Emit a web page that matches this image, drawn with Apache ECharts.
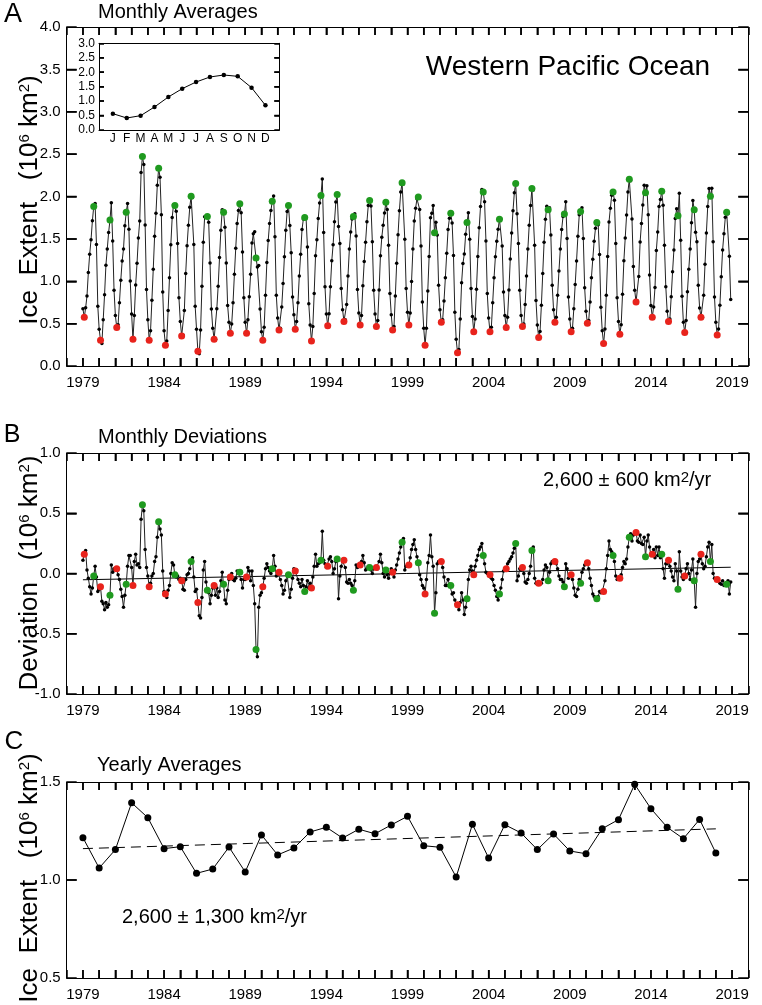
<!DOCTYPE html>
<html>
<head>
<meta charset="utf-8">
<script src="https://cdn.jsdelivr.net/npm/echarts/dist/echarts.min.js"></script>
<style>
html,body{margin:0;padding:0;background:#fff;}
#chart{width:762px;height:1005px;}
</style>
</head>
<body>
<div id="chart"></div>
<script>
// ---------------- DATA ----------------
const startYear = 1979;
const monthLabels = ['J','F','M','A','M','J','J','A','S','O','N','D'];
// inset: monthly climatology (10^6 km^2)
const climatology = [0.565, 0.415, 0.496, 0.796, 1.142, 1.430, 1.661, 1.834, 1.903, 1.857, 1.465, 0.854];
// monthly deviations from climatology (10^6 km^2), one row per year, Jan..Dec
const monthlyDeviations = [
  [ .11,  .16,  .19,  .03, -.04, -.11, -.17, -.12, -.02,  .06, -.03, -.15], // 1979
  [-.13, -.11, -.23, -.25, -.30, -.24, -.28, -.26, -.18,  .07,  .01,  .04], // 1980
  [ .03,  .04, -.01, -.05, -.13, -.19, -.28, -.18, -.09,  .06,  .15,  .15], // 1981
  [ .05, -.10,  .10,  .16,  .07,  .08,  .05,  .45,  .57,  .52,  .20,  .05], // 1982
  [-.02, -.11, -.08, -.02,  .00,  .10,  .14,  .30,  .43,  .37,  .32,  .02], // 1983
  [-.15, -.17, -.20, -.14, -.10,  .00,  .09,  .07, -.01, -.03, -.02, -.05], // 1984
  [-.04, -.06, -.13, -.14, -.05, -.01,  .00,  .04,  .10,  .13, -.03, -.15], // 1985
  [-.13, -.24, -.35, -.37, -.20,  .03,  .10, -.07, -.14, -.16, -.25, -.18], // 1986
  [-.12, -.10, -.18, -.12, -.20, -.15, -.06,  .01, -.09, -.22, -.25, -.14], // 1987
  [-.05, -.03,  .00, -.05, -.06, -.04,  .02,  .00,  .01, -.05, -.12, -.05], // 1988
  [-.05, -.03,  .05,  .02, -.06,  .02, -.10, -.25, -.63, -.69, -.28, -.18], // 1989
  [-.16, -.11, -.04,  .04,  .08,  .05,  .02,  .00,  .04,  .15,  .06, -.02], // 1990
  [ .00,  .01, -.05, -.10, -.17, -.14, -.06, -.01, -.01, -.20, -.13, -.04], // 1991
  [ .04,  .02,  .03, -.05, -.08, -.11, -.05, -.10, -.15, -.11, -.06, -.12], // 1992
  [-.08, -.12, -.03,  .06,  .16,  .06,  .08,  .09,  .11,  .35,  .11,  .08], // 1993
  [ .05,  .06,  .12,  .14,  .10,  .00,  .04,  .10,  .12, -.21, -.02,  .06], // 1994
  [ .10,  .11,  .05, -.07, -.08, -.05, -.08, -.10, -.14, -.06,  .07,  .05], // 1995
  [ .06,  .07,  .10,  .15,  .09,  .03,  .04,  .06,  .05,  .03,  .00,  .04], // 1996
  [ .05,  .05,  .04,  .10,  .16,  .09,  .00, -.03,  .03, -.01, -.04,  .00], // 1997
  [ .04,  .01, -.03,  .03,  .07,  .12,  .17,  .22,  .26,  .29,  .03,  .06], // 1998
  [ .07,  .07,  .13,  .20,  .24,  .28,  .20,  .14,  .09, -.01, -.05, -.10], // 1999
  [-.12, -.17, -.05,  .09,  .15,  .32,  .14,  .06, -.33, -.16,  .08,  .10], // 2000
  [ .10,  .10,  .05, -.03, -.10, -.10, -.05, -.09, -.10, -.17, -.16, -.22], // 2001
  [-.25, -.26, -.30, -.24, -.16, -.22, -.34, -.28, -.21, -.05,  .03,  .06], // 2002
  [ .02, -.01,  .06,  .11,  .15,  .20,  .22,  .25,  .15,  .08,  .01,  .00], // 2003
  [ .00, -.01, -.04, -.05, -.10, -.14, -.19, -.22, -.17, -.12, -.05,  .02], // 2004
  [ .03,  .04,  .08,  .10,  .12,  .14,  .17,  .21,  .25, -.06, -.02,  .04], // 2005
  [ .03,  .05,  .00, -.07, -.08, -.05,  .00,  .06,  .19,  .22, -.04, -.08], // 2006
  [-.08, -.08, -.09, -.08, -.05,  .03,  .07,  .05, -.06,  .01,  .08,  .10], // 2007
  [ .10,  .10,  .08,  .04, -.02, -.05, -.05, -.07, -.11,  .08,  .04, -.04], // 2008
  [-.01, -.01, -.05, -.12, -.18, -.19, -.13, -.05, -.08,  .01,  .04,  .07], // 2009
  [ .08,  .09,  .04, -.04, -.10, -.17, -.19, -.21, -.21, -.19, -.15, -.16], // 2010
  [-.15, -.15, -.06,  .04,  .15,  .27,  .20,  .18,  .15,  .10, -.02, -.05], // 2011
  [-.04, -.04, -.01,  .05,  .10,  .08,  .12,  .22,  .30,  .33,  .27,  .32], // 2012
  [ .33,  .34,  .27,  .26,  .32,  .25,  .24,  .30,  .14,  .27,  .32,  .22], // 2013
  [ .15,  .16,  .20,  .13,  .22,  .15,  .22,  .13,  .16,  .04, -.04,  .08], // 2014
  [ .08,  .11,  .06,  .02, -.03, -.06,  .08,  .02, -.13,  .18,  .02, -.03], // 2015
  [-.05, -.02,  .04,  .08,  .00, -.05,  .03,  .12, -.06, -.28,  .00,  .10], // 2016
  [ .12,  .16,  .08,  .04,  .06,  .14,  .22,  .26,  .10,  .24,  .00, -.04], // 2017
  [-.05, -.05, -.06, -.08, -.09, -.06, -.10, -.08, -.09, -.06, -.17, -.07]  // 2018
];
// yearly averages 1979..2018 (10^6 km^2)
const yearlyAverages = [1.216, 1.061, 1.155, 1.394, 1.318, 1.160, 1.170, 1.034, 1.056, 1.168,
  1.041, 1.230, 1.128, 1.163, 1.245, 1.269, 1.214, 1.259, 1.236, 1.281,
  1.325, 1.175, 1.167, 1.015, 1.284, 1.112, 1.282, 1.240, 1.155, 1.235,
  1.148, 1.134, 1.262, 1.308, 1.488, 1.364, 1.269, 1.211, 1.309, 1.138];
// trend line end points
const deviationTrend = [[1979, -0.052], [2018.917, 0.052]];
const yearlyTrend = [[1979, 1.160], [2018, 1.261]];
const yearTickLabels = [1979, 1984, 1989, 1994, 1999, 2004, 2009, 2014, 2019];
const yTicksA = [0.5, 1.0, 1.5, 2.0, 2.5, 3.0, 3.5];
const yTicksB = [-0.5, 0.0, 0.5];
const yTicksC = [1.0];
const yTicksInset = [0.5, 1.0, 1.5, 2.0, 2.5];

// ---------------- BUILD SERIES DATA ----------------
const extentData = [], devData = [], febExt = [], sepExt = [], febDev = [], sepDev = [];
monthlyDeviations.forEach((row, i) => {
  row.forEach((d, m) => {
    const x = startYear + i + m / 12;
    const v = +(climatology[m] + d).toFixed(3);
    extentData.push([x, v]);
    devData.push([x, d]);
    if (m === 1) { febExt.push([x, v]); febDev.push([x, d]); }
    if (m === 8) { sepExt.push([x, v]); sepDev.push([x, d]); }
  });
});
const yearlyData = yearlyAverages.map((v, i) => [startYear + i, v]);
const insetData = climatology.map((v, i) => [i + 1, v]);

// ---------------- CHART ----------------
const FF = '"Liberation Sans", Arial, Helvetica, sans-serif';
const RED = '#e8231c', GREEN = '#1f9a1f';
const L = 66.7, W = 681.6;
const gridsDef = [
  {left: L, top: 27, width: W, height: 339},
  {left: L, top: 453, width: W, height: 241},
  {left: L, top: 782, width: W, height: 196},
  {left: 99, top: 43.3, width: 180.3, height: 86.7}
];
const axLine = () => ({show: true, onZero: false, lineStyle: {color: '#000', width: 1}});
const tk = (len) => ({show: true, inside: true, length: len, lineStyle: {color: '#000', width: 1.5}});
function xPair(g) {
  return [
    {type: 'value', gridIndex: g, position: 'bottom', min: 1978, max: 2020, interval: 1,
     axisLine: axLine(), splitLine: {show: false}, axisTick: tk(8),
     axisLabel: {show: true, margin: 9, color: '#000', fontSize: 15, fontFamily: FF,
       formatter: v => yearTickLabels.indexOf(Math.round(v)) >= 0 ? String(Math.round(v)) : ''}},
    {type: 'value', gridIndex: g, position: 'top', min: 1978, max: 2020, interval: 1,
     axisLine: axLine(), splitLine: {show: false}, axisTick: tk(8), axisLabel: {show: false}}
  ];
}
function yPair(g, min, max, interval) {
  return [
    {type: 'value', gridIndex: g, position: 'left', min, max, interval,
     axisLine: axLine(), splitLine: {show: false}, axisTick: tk(10),
     axisLabel: {show: true, margin: 6, color: '#000', fontSize: 15, fontFamily: FF,
       formatter: v => v.toFixed(1)}},
    {type: 'value', gridIndex: g, position: 'right', min, max, interval,
     axisLine: axLine(), splitLine: {show: false}, axisTick: tk(10), axisLabel: {show: false}}
  ];
}
const xAxes = [...xPair(0), ...xPair(1), ...xPair(2),
  {type: 'value', gridIndex: 3, position: 'bottom', min: 0, max: 13, interval: 1,
   axisLine: axLine(), splitLine: {show: false}, axisTick: {show: false},
   axisLabel: {show: true, margin: 3, color: '#000', fontSize: 12, fontFamily: FF,
     formatter: v => (v >= 1 && v <= 12) ? monthLabels[v - 1] : ''}},
  {type: 'value', gridIndex: 3, position: 'top', min: 0, max: 13, interval: 1,
   axisLine: axLine(), splitLine: {show: false}, axisTick: {show: false}, axisLabel: {show: false}}];
const yAxes = [...yPair(0, 0, 4, 0.5), ...yPair(1, -1, 1, 0.5), ...yPair(2, 0.5, 1.5, 0.5),
  {type: 'value', gridIndex: 3, position: 'left', min: 0, max: 3, interval: 0.5,
   axisLine: axLine(), splitLine: {show: false}, axisTick: tk(5),
   axisLabel: {show: true, margin: 4, color: '#000', fontSize: 12, fontFamily: FF, formatter: v => v.toFixed(1)}},
  {type: 'value', gridIndex: 3, position: 'right', min: 0, max: 3, interval: 0.5,
   axisLine: axLine(), splitLine: {show: false}, axisTick: tk(5), axisLabel: {show: false}}];

// tick marks as broken line series in data units (length given in pixels, converted with grid size)
function tickSeries(xi, yi, g, xmin, xmax, ymin, ymax, xTicks, yTicks, lenX, lenY) {
  const dy = lenX * (ymax - ymin) / g.height;
  const dx = lenY * (xmax - xmin) / g.width;
  const d = [];
  xTicks.forEach(t => {
    d.push([t, ymin], [t, ymin + dy], [t, null]);
    d.push([t, ymax], [t, ymax - dy], [t, null]);
  });
  yTicks.forEach(v => {
    d.push([xmin, v], [xmin + dx, v], [xmin, null]);
    d.push([xmax, v], [xmax - dx, v], [xmax, null]);
  });
  return {type: 'line', xAxisIndex: xi, yAxisIndex: yi, data: d, symbol: 'none', connectNulls: false,
    clip: false, silent: true, z: 6, lineStyle: {color: '#000', width: 1.5}};
}
const yearTicks = [];
for (let yr = 1979; yr <= 2019; yr++) yearTicks.push(yr);

function monthlyLine(xi, yi, data) {
  return {type: 'line', xAxisIndex: xi, yAxisIndex: yi, data, symbol: 'circle', symbolSize: 3.5,
    showSymbol: true, showAllSymbol: true, itemStyle: {color: '#000'},
    lineStyle: {color: '#222', width: 1}, z: 3, silent: true};
}
function dots(xi, yi, data, color) {
  return {type: 'scatter', xAxisIndex: xi, yAxisIndex: yi, data, symbol: 'circle', symbolSize: 7,
    itemStyle: {color, opacity: 1}, z: 4, silent: true};
}

const sup = {fontSize: 15, fontFamily: FF, verticalAlign: 'top', fill: '#000'};
const norm = (fs) => ({fontSize: fs, fontFamily: FF, verticalAlign: 'bottom', fill: '#000'});
function txt(x, y, text, fs, align) {
  return {type: 'text', x, y, silent: true,
    style: {text, fontSize: fs, fontFamily: FF, fill: '#000', align: align || 'left', verticalAlign: 'middle'}};
}
function richTxt(x, y, text, fs, align, rot) {
  return {type: 'text', x, y, rotation: rot || 0, silent: true,
    style: {text, fontSize: fs, fontFamily: FF, fill: '#000', align: align || 'left', verticalAlign: 'middle',
      rich: {n: norm(fs), s: sup}}};
}
const texts = [
  txt(13, 15, 'A', 27, 'center'),
  txt(98, 12, 'Monthly Averages', 20),
  txt(568, 67, 'Western Pacific Ocean', 28, 'center'),
  richTxt(30, 200, '{n|Ice  Extent   (10}{s|6}{n| km}{s|2}{n|)}', 26, 'center', Math.PI / 2),
  txt(12, 435, 'B', 25, 'center'),
  txt(98, 437, 'Monthly Deviations', 20),
  richTxt(543, 480, '{n|2,600 ± 600 km}{s|2}{n|/yr}', 20, 'left'),
  richTxt(30, 573, '{n|Deviation   (10}{s|6}{n| km}{s|2}{n|)}', 26, 'center', Math.PI / 2),
  txt(14, 742, 'C', 26, 'center'),
  txt(97, 765, 'Yearly Averages', 20),
  richTxt(122, 917, '{n|2,600 ± 1,300 km}{s|2}{n|/yr}', 20, 'left'),
  richTxt(30, 878, '{n|Ice  Extent   (10}{s|6}{n| km}{s|2}{n|)}', 26, 'center', Math.PI / 2)
];

const option = {
  animation: false,
  backgroundColor: '#fff',
  grid: gridsDef.map(g => Object.assign({show: false, containLabel: false}, g)),
  xAxis: xAxes,
  yAxis: yAxes,
  series: [
    tickSeries(0, 0, gridsDef[0], 1978, 2020, 0, 4, yearTicks, yTicksA, 8, 10),
    tickSeries(2, 2, gridsDef[1], 1978, 2020, -1, 1, yearTicks, yTicksB, 8, 10),
    tickSeries(4, 4, gridsDef[2], 1978, 2020, 0.5, 1.5, yearTicks, yTicksC, 8, 10),
    tickSeries(6, 6, gridsDef[3], 0, 13, 0, 3, [], yTicksInset, 0, 5),
    monthlyLine(0, 0, extentData),
    dots(0, 0, febExt, RED),
    dots(0, 0, sepExt, GREEN),
    {type: 'line', xAxisIndex: 2, yAxisIndex: 2, data: deviationTrend, symbol: 'none',
     lineStyle: {color: '#000', width: 1}, z: 2, silent: true},
    monthlyLine(2, 2, devData),
    dots(2, 2, febDev, RED),
    dots(2, 2, sepDev, GREEN),
    {type: 'line', xAxisIndex: 4, yAxisIndex: 4, data: yearlyTrend, symbol: 'none',
     lineStyle: {color: '#000', width: 1, type: [10, 6]}, z: 2, silent: true},
    {type: 'line', xAxisIndex: 4, yAxisIndex: 4, data: yearlyData, symbol: 'circle', symbolSize: 7,
     showAllSymbol: true, itemStyle: {color: '#000'}, lineStyle: {color: '#000', width: 1}, z: 3, silent: true},
    {type: 'line', xAxisIndex: 6, yAxisIndex: 6, data: insetData, symbol: 'circle', symbolSize: 4.5,
     showAllSymbol: true, itemStyle: {color: '#000'}, lineStyle: {color: '#000', width: 1}, z: 3, silent: true}
  ],
  graphic: texts
};
const chart = echarts.init(document.getElementById('chart'), null, {renderer: 'canvas'});
chart.setOption(option);
</script>
</body>
</html>
